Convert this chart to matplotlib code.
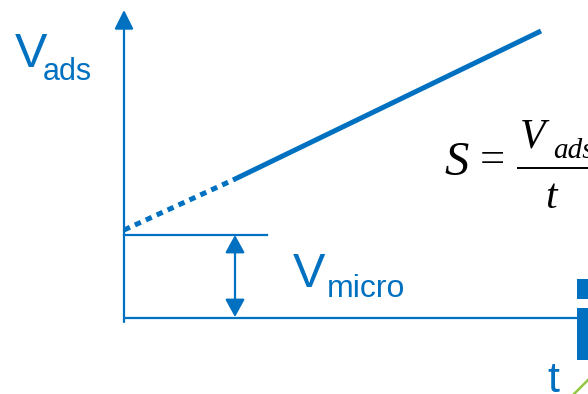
import matplotlib
matplotlib.use("Agg")
import matplotlib.pyplot as plt
from matplotlib.patches import Rectangle

# Data (chart units, origin at the axes corner)
t_line = [0, 109, 417]        # dotted part 0..109, solid part 109..417
v_line = [88, 138, 287]
v_micro = 83                  # micropore volume level
t_micro_guide = 143           # length of the V_micro guide line
t_micro_arrow = 111           # where the double arrow sits
t_axis_end = 454
v_axis_end = 308

blue = "#0070C0"
green = "#92C83E"

fig = plt.figure(figsize=(5.88, 3.94), dpi=100)
ax = fig.add_axes([0, 0, 1, 1])
# 1 unit = 1 px, origin of the diagram at pixel (124, 318)
ax.set_xlim(-124, 464)
ax.set_ylim(-76, 318)
ax.axis("off")

# axes
ax.annotate("", xy=(0, v_axis_end), xytext=(0, -4),
            arrowprops=dict(arrowstyle="-|>,head_length=0.4,head_width=0.2",
                            mutation_scale=29, lw=1.6, color=blue,
                            shrinkA=0, shrinkB=0))
ax.plot([0, t_axis_end], [0, 0], color=blue, lw=1.6, solid_capstyle="butt")

# adsorption line: extrapolated (dotted) and measured (solid)
ax.plot(t_line[:2], v_line[:2], color=blue, lw=3.6, dashes=(1.3, 1.1),
        dash_capstyle="butt")
ax.plot(t_line[1:], v_line[1:], color=blue, lw=3.6, solid_capstyle="butt")

# V_micro guide and double arrow
ax.plot([0, t_micro_guide], [v_micro, v_micro], color=blue, lw=1.6)
ax.annotate("", xy=(t_micro_arrow, 1), xytext=(t_micro_arrow, v_micro),
            arrowprops=dict(arrowstyle="<|-|>,head_length=0.4,head_width=0.22",
                            mutation_scale=27, lw=1.6, color=blue,
                            shrinkA=0, shrinkB=0))

# bits of neighbouring slide content at the right edge
ax.add_patch(Rectangle((453, 19), 20, 20, color=blue, lw=0))
ax.add_patch(Rectangle((453, -42), 20, 52, color=blue, lw=0))
ax.plot([449, 468], [-77, -58], color=green, lw=1.8)

sans = "Liberation Sans"
serif = "Liberation Serif"


def label(txt, px, py, size, family=sans, color=blue, style="normal", ha="left"):
    ax.annotate(txt, xy=(px, 394 - py), xycoords="figure pixels",
                fontsize=size, family=family, color=color, style=style,
                ha=ha, va="baseline", annotation_clip=False)


label("V", 15, 67, 35)
label("ads", 43, 80, 22)
label("V", 293, 287, 35)
label("micro", 327, 297, 23)
label("t", 547, 392, 31)

# formula S = V_ads / t
label("S", 444, 175, 35, family=serif, color="black", style="italic")
label("=", 480, 172, 32, family=serif, color="black")
label("V", 520, 147, 30, family=serif, color="black", style="italic")
label("ads", 553, 158, 21, family=serif, color="black", style="italic")
label("t", 545, 208, 30, family=serif, color="black", style="italic")
fig.add_artist(plt.Line2D([518 / 588, 1], [1 - 168 / 394, 1 - 168 / 394],
                          color="black", lw=1.4))

fig.savefig("out.png", dpi=100)
